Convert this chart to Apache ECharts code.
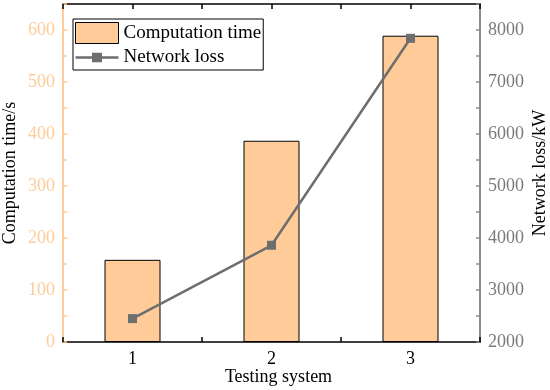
<!DOCTYPE html>
<html>
<head>
  <meta charset="UTF-8">
  <title>computation time vs network loss</title>
  <style>
    body { margin: 0; }
    #main { width: 550px; height: 390px; }
  </style>
  <script src="https://cdn.jsdelivr.net/npm/echarts@6/dist/echarts.min.js"></script>
</head>
<body>
<div id="main"></div>
<script>
// data
var systems = [1, 2, 3];
var compTime = [158, 387, 589];        // s
var netLoss = [2450, 3860, 7840];      // kW

var FONT = 'Liberation Serif';
var ORANGE = '#FFCC99';
var GRAY = '#6e6e6e';

// legend glyph: line with a small square, with corner dots so it keeps its box
var lineSquare = 'path://M0,0h0.1v0.1h-0.1zM430,210h-0.1v-0.1h0.1zM0,93h430v25h-430zM165,58h100v94h-100z';

var chart = echarts.init(document.getElementById('main'));

chart.setOption({
  animation: false,
  textStyle: { fontFamily: FONT },
  grid: { left: 63, right: 70, top: 4, bottom: 48, containLabel: false, outerBoundsMode: 'none' },
  legend: {
    orient: 'vertical',
    left: 73,
    top: 19,
    padding: [3, 2, 2, 2],
    itemGap: 3,
    itemWidth: 43,
    itemHeight: 21,
    borderColor: '#000',
    borderWidth: 1,
    textStyle: { fontFamily: FONT, fontSize: 19, color: '#000', lineHeight: 21 },
    data: [
      { name: 'Computation time', icon: 'rect', itemStyle: { borderWidth: 1, borderColor: '#000' } },
      { name: 'Network loss', icon: lineSquare }
    ]
  },
  xAxis: [
    {
      type: 'value',
      min: 0.5, max: 3.5, interval: 0.5,
      name: 'Testing system',
      nameLocation: 'middle',
      nameGap: 26,
      nameMoveOverlap: false,
      nameTextStyle: { fontFamily: FONT, fontSize: 18, color: '#000', padding: [0, 0, 0, 14] },
      axisLine: { lineStyle: { color: '#000', width: 1.5 } },
      axisTick: { inside: true, length: 5, lineStyle: { color: '#000', width: 1.5 } },
      axisLabel: {
        fontFamily: FONT, fontSize: 18, color: '#000', margin: 8,
        formatter: function (v) { return v % 1 === 0 ? String(v) : ''; }
      },
      splitLine: { show: false }
    },
    {
      type: 'value',
      position: 'top',
      min: 0.5, max: 3.5, interval: 0.5,
      axisLine: { lineStyle: { color: '#000', width: 1.5 } },
      axisTick: { inside: true, length: 5, lineStyle: { color: '#000', width: 1.5 } },
      axisLabel: { show: false },
      splitLine: { show: false }
    }
  ],
  yAxis: [
    {
      type: 'value',
      min: 0, max: 650, interval: 50,
      name: 'Computation time/s',
      nameLocation: 'middle',
      nameRotate: 90,
      nameGap: 44,
      nameMoveOverlap: false,
      nameTextStyle: { fontFamily: FONT, fontSize: 18, color: '#000' },
      axisLine: { show: true, lineStyle: { color: ORANGE, width: 2 } },
      axisTick: { show: true, inside: true, length: 4, lineStyle: { color: ORANGE, width: 1.5 } },
      axisLabel: {
        fontFamily: FONT, fontSize: 18, color: ORANGE, margin: 8,
        formatter: function (v) { return v % 100 === 0 ? String(v) : ''; }
      },
      splitLine: { show: false }
    },
    {
      type: 'value',
      position: 'right',
      min: 2000, max: 8500, interval: 500,
      name: 'Network loss/kW',
      nameLocation: 'middle',
      nameRotate: 90,
      nameGap: 51,
      nameMoveOverlap: false,
      nameTextStyle: { fontFamily: FONT, fontSize: 18, color: '#000' },
      axisLine: { show: true, lineStyle: { color: '#8c8c8c', width: 2 } },
      axisTick: { show: true, inside: true, length: 4, lineStyle: { color: '#8c8c8c', width: 1.5 } },
      axisLabel: {
        fontFamily: FONT, fontSize: 18, color: '#7a7a7a', margin: 8,
        formatter: function (v) { return v % 1000 === 0 ? String(v) : ''; }
      },
      splitLine: { show: false }
    }
  ],
  series: [
    {
      name: 'Computation time',
      type: 'bar',
      xAxisIndex: 0,
      yAxisIndex: 0,
      barWidth: 56,
      itemStyle: { color: ORANGE, borderColor: '#000', borderWidth: 1 },
      data: systems.map(function (s, i) { return [s, compTime[i]]; })
    },
    {
      name: 'Network loss',
      type: 'line',
      xAxisIndex: 0,
      yAxisIndex: 1,
      symbol: 'rect',
      symbolSize: 9,
      lineStyle: { color: GRAY, width: 2.5 },
      itemStyle: { color: GRAY },
      data: systems.map(function (s, i) { return [s, netLoss[i]]; })
    }
  ]
});
</script>
</body>
</html>
